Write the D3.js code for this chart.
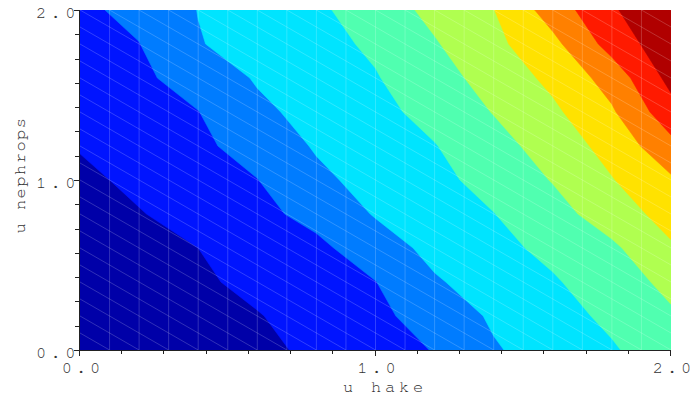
<!DOCTYPE html>
<html>
<head>
<meta charset="utf-8">
<script src="https://cdn.jsdelivr.net/npm/d3@7"></script>
<style>
  html, body { margin: 0; padding: 0; background: #fff; }
  svg { display: block; }
  text { font-family: "Nimbus Mono PS", "FreeMono", "Courier New", "Liberation Mono", monospace; fill: #333; }
</style>
</head>
<body>
<svg id="chart" width="696" height="403"></svg>
<script>
// Grid sample positions (u hake along x, u nephrops along y)
const xValues = [0.0, 0.2, 0.4, 0.6, 0.8, 1.0, 1.2, 1.4, 1.6, 1.8, 2.0];
const yValues = [0.0, 0.2, 0.4, 0.6, 0.8, 1.0, 1.2, 1.4, 1.6, 1.8, 2.0];

// Estimated field values, one row per yValue (row 0 = u nephrops 0.0)
const zRow00 = [0.10, 0.30, 0.55, 0.80, 1.17, 1.60, 2.04, 2.91, 3.43, 3.90, 4.57];
const zRow02 = [0.15, 0.40, 0.65, 0.95, 1.38, 1.79, 2.40, 3.13, 3.64, 4.20, 4.87];
const zRow04 = [0.20, 0.50, 0.85, 1.24, 1.61, 1.98, 2.90, 3.43, 3.90, 4.52, 5.25];
const zRow06 = [0.30, 0.60, 1.00, 1.39, 1.78, 2.53, 3.27, 3.73, 4.24, 4.82, 5.88];
const zRow08 = [0.55, 0.95, 1.35, 1.75, 2.29, 3.07, 3.52, 3.98, 4.63, 5.50, 6.37];
const zRow10 = [0.80, 1.20, 1.59, 1.98, 2.79, 3.33, 3.76, 4.32, 5.05, 5.95, 6.86];
const zRow12 = [1.06, 1.43, 1.81, 2.38, 3.09, 3.52, 3.96, 4.64, 5.43, 6.35, 7.70];
const zRow14 = [1.29, 1.64, 1.98, 2.79, 3.32, 3.74, 4.30, 5.04, 5.81, 6.88, 8.62];
const zRow16 = [1.50, 1.83, 2.38, 3.09, 3.51, 3.94, 4.61, 5.38, 6.24, 7.40, 9.30];
const zRow18 = [1.67, 1.98, 2.95, 3.35, 3.71, 4.15, 4.92, 5.75, 6.74, 8.38, 9.67];
const zRow20 = [1.81, 2.26, 3.02, 3.42, 3.83, 4.48, 5.26, 5.98, 7.45, 8.88, 9.90];
const zRows = [zRow00, zRow02, zRow04, zRow06, zRow08, zRow10, zRow12, zRow14, zRow16, zRow18, zRow20];

// Contour levels and fill colours (jet-like)
const levels = [0, 1, 2, 3, 4, 5, 6, 7, 8, 9];
const levelColors = ["#0000a8", "#0014ff", "#007cff", "#00e4ff", "#50ffb0",
                     "#b0ff50", "#ffe200", "#ff8000", "#ff1a00", "#b00000"];

// Axis ticks
const xTickValues = d3.range(0, 15).map(i => i * 2 / 14);
const yTickValues = d3.range(0, 15).map(i => i * 2 / 14);
const majorTicks = [0, 1, 2];
const xTickLabels = ["0.0", "1.0", "2.0"];
const yTickLabels = ["0.0", "1.0", "2.0"];
const xTitle = "u hake";
const yTitle = "u nephrops";

const svg = d3.select("#chart");
const L = 80, R = 671, T = 10, B = 350;
const x = d3.scaleLinear().domain([0, 2]).range([L, R]);
const y = d3.scaleLinear().domain([0, 2]).range([B, T]);

svg.append("defs").append("clipPath").attr("id", "plotclip")
  .append("rect").attr("x", L).attr("y", T).attr("width", R - L).attr("height", B - T);

const nx = xValues.length, ny = yValues.length;
const dxStep = xValues[1] - xValues[0], dyStep = yValues[1] - yValues[0];
const values = [].concat(...zRows);

const contours = d3.contours().size([nx, ny]).thresholds(levels)(values);
const proj = d3.geoTransform({
  point: function(gx, gy) {
    this.stream.point(x(xValues[0] + (gx - 0.5) * dxStep), y(yValues[0] + (gy - 0.5) * dyStep));
  }
});
const path = d3.geoPath(proj);

const plot = svg.append("g").attr("clip-path", "url(#plotclip)");
plot.selectAll("path.band").data(contours).join("path")
  .attr("class", "band")
  .attr("d", path)
  .attr("fill", (d, i) => levelColors[i])
  .attr("stroke", (d, i) => levelColors[i])
  .attr("stroke-width", 0.6);

// faint triangulation mesh
const mesh = plot.append("g").attr("stroke", "#ffffff").attr("stroke-opacity", 0.19).attr("stroke-width", 1).attr("fill", "none");
const meshStep = 0.1;
for (let k = 1; k < 20; k++) {
  mesh.append("line").attr("x1", x(k * meshStep)).attr("x2", x(k * meshStep)).attr("y1", T).attr("y2", B);
}
for (let k = 0; k <= 40; k++) {
  const c = k * meshStep; // line y = c - x
  mesh.append("line").attr("x1", x(0)).attr("y1", y(c)).attr("x2", x(c)).attr("y2", y(0));
}

// axes
const axisColor = "#222";
const ax = svg.append("g");
ax.append("line").attr("x1", L - 0.5).attr("x2", L - 0.5).attr("y1", T).attr("y2", B + 0.5).attr("stroke", axisColor);
ax.append("line").attr("x1", L - 0.5).attr("x2", R).attr("y1", B + 0.5).attr("y2", B + 0.5).attr("stroke", axisColor);

yTickValues.forEach((v, i) => {
  const major = i % 7 === 0;
  const yy = Math.round(y(v)) + 0.5;
  ax.append("line").attr("x1", L - (major ? 6 : 5)).attr("x2", L).attr("y1", yy).attr("y2", yy).attr("stroke", axisColor);
});
xTickValues.forEach((v, i) => {
  const major = i % 7 === 0;
  const xx = Math.round(x(v)) - 0.5;
  ax.append("line").attr("x1", xx).attr("x2", xx).attr("y1", B).attr("y2", B + (major ? 6 : 4)).attr("stroke", axisColor);
});

majorTicks.forEach((v, i) => {
  svg.append("text").attr("x", 80).attr("y", y(v) + 7.5)
    .attr("text-anchor", "end").attr("font-size", 17).attr("letter-spacing", 4.5)
    .text(yTickLabels[i]);
  svg.append("text").attr("x", x(v) + 3).attr("y", 373)
    .attr("text-anchor", "middle").attr("font-size", 17).attr("letter-spacing", 4)
    .text(xTickLabels[i]);
});

svg.append("text").attr("x", 385).attr("y", 392)
  .attr("text-anchor", "middle").attr("font-size", 17).attr("letter-spacing", 3.8)
  .text(xTitle);
svg.append("text").attr("transform", "translate(25,175) rotate(-90)")
  .attr("text-anchor", "middle").attr("font-size", 17).attr("letter-spacing", 1.5)
  .text(yTitle);
</script>
</body>
</html>
